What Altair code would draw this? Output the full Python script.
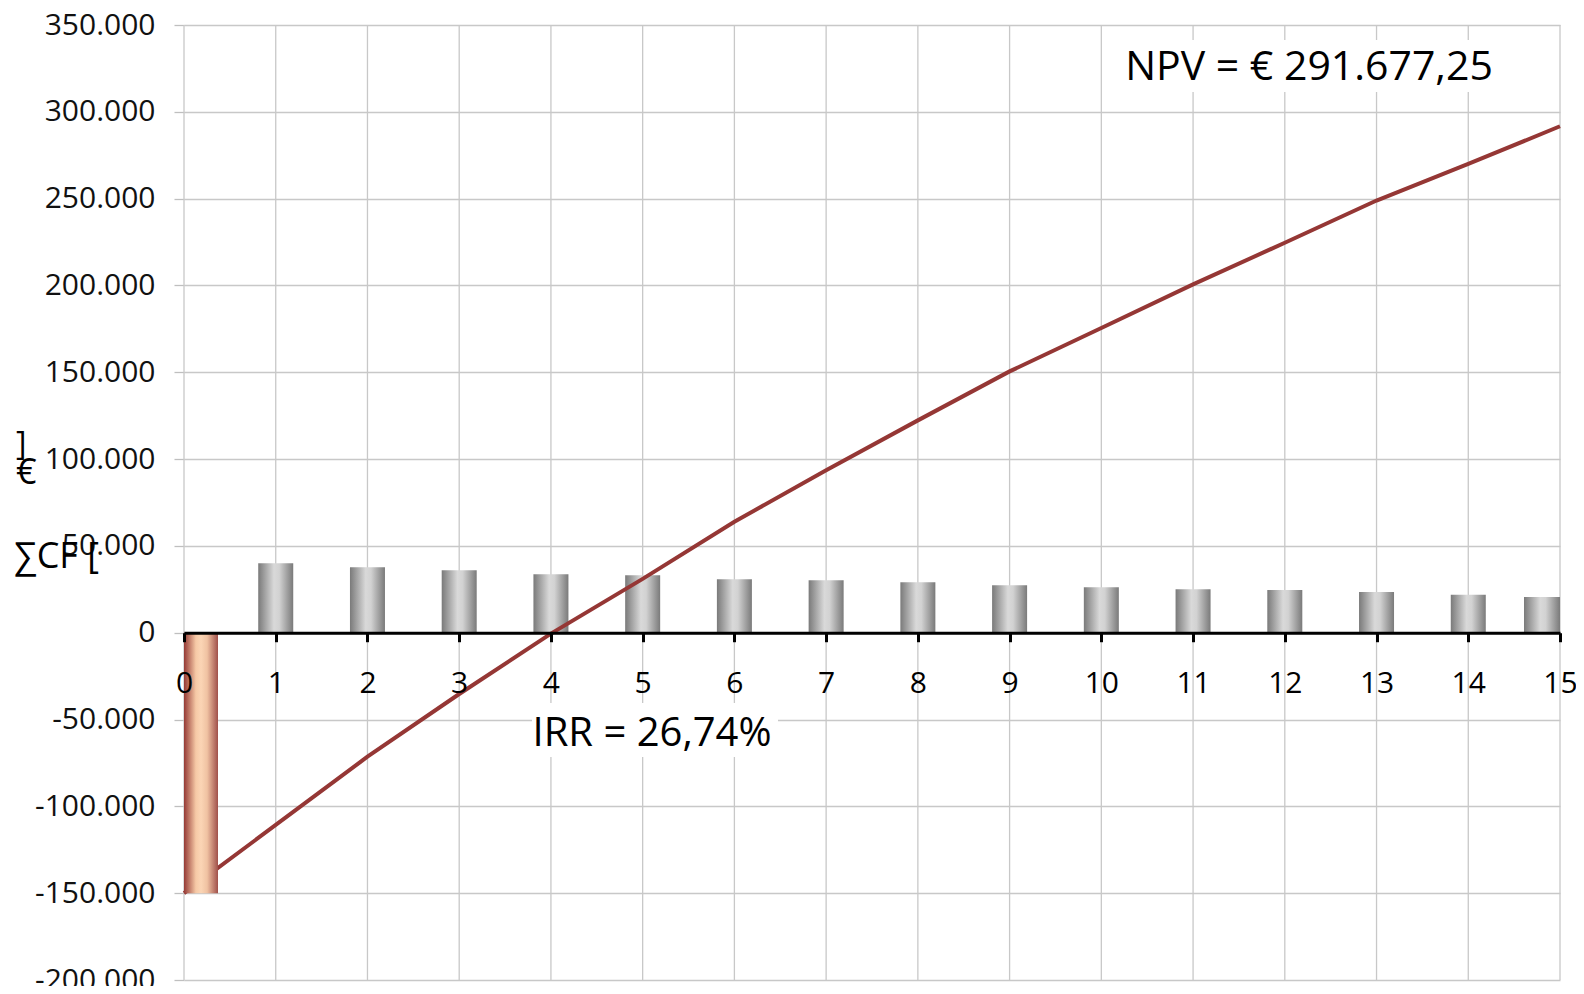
import altair as alt
import pandas as pd

# ---- data ----
years = list(range(16))
cash_flow = [-150000, 40000, 37700, 36000, 33700, 33100, 30800, 30200,
             29000, 27400, 26250, 25100, 24600, 23500, 21800, 20600]
cumulative = [-150000, -110700, -71400, -35300, -500, 31000, 63900, 93600,
              122300, 150500, 175500, 200600, 224600, 248900, 270000, 291677.25]
y_ticks = list(range(-200000, 350001, 50000))
npv_label = "NPV = € 291.677,25"
irr_label = "IRR = 26,74%"
y_title_parts = ["∑CF [", "€", "]"]

df = pd.DataFrame({"year": years, "cf": cash_flow, "cum": cumulative})

W, H = 1376, 955
FONT = "Open Sans"
y_min, y_max = -200000, 350000
zero_from_bottom = H * (0 - y_min) / (y_max - y_min)

x_scale = alt.Scale(domain=[0, 15], nice=False, zero=False, padding=0)
y_scale = alt.Scale(domain=[y_min, y_max], nice=False, padding=0)

x_axis = alt.Axis(
    values=years, title=None, orient="bottom", offset=-zero_from_bottom,
    domainColor="black", domainWidth=3, tickColor="black", tickWidth=3,
    tickSize=9, labelPadding=27, labelFontSize=30, labelColor="black",
    labelFont=FONT, labelFlush=False, labelOverlap=False,
    grid=False, zindex=1,
)
y_axis = alt.Axis(
    values=y_ticks, title=None, domain=False, tickColor="#BFBFBF",
    tickSize=10, tickWidth=1.3, labelPadding=19, labelFontSize=30,
    labelColor="#111111", labelFont=FONT,
    labelExpr="replace(replace(format(datum.value, ','), regexp(',', 'g'), '.'), '−', '-')",
    grid=True, gridColor="#C8C8C8", gridWidth=1.3, labelOverlap=False,
)

gray = alt.Gradient(
    gradient="linear", x1=0, x2=1, y1=0, y2=0,
    stops=[alt.GradientStop(offset=0, color="#7a7a7a"),
           alt.GradientStop(offset=0.45, color="#d9d9d9"),
           alt.GradientStop(offset=0.6, color="#d2d2d2"),
           alt.GradientStop(offset=1, color="#7a7a7a")],
)
copper = alt.Gradient(
    gradient="linear", x1=0, x2=1, y1=0, y2=0,
    stops=[alt.GradientStop(offset=0, color="#953a35"),
           alt.GradientStop(offset=0.35, color="#f6c9a6"),
           alt.GradientStop(offset=0.5, color="#fbd5b5"),
           alt.GradientStop(offset=0.68, color="#f0c2a2"),
           alt.GradientStop(offset=1, color="#a0504a")],
)

base = alt.Chart(df)
X = alt.X("year:Q", scale=x_scale, axis=x_axis)
Yb = alt.Y("cf:Q", scale=y_scale, axis=y_axis)

vgrid = base.mark_rule(color="#C8C8C8", strokeWidth=1.3).encode(
    x=X, y=alt.value(0), y2=alt.value(H))

bar_first = base.transform_filter("datum.year == 0").mark_bar(
    fill=copper, size=34, xOffset=17).encode(x=X, y=Yb)
bar_mid = base.transform_filter("datum.year > 0 && datum.year < 15").mark_bar(
    fill=gray, size=35).encode(x=X, y=Yb)
bar_last = base.transform_filter("datum.year == 15").mark_bar(
    fill=gray, size=36, xOffset=-18).encode(x=X, y=Yb)

line = base.mark_line(color="#953735", strokeWidth=4).encode(
    x=X, y=alt.Y("cum:Q", scale=y_scale, axis=y_axis))

one = pd.DataFrame({"k": [0]})
npv_bg = alt.Chart(one).mark_rect(fill="white").encode(
    x=alt.value(926), x2=alt.value(1316), y=alt.value(15), y2=alt.value(67))
irr_bg = alt.Chart(one).mark_rect(fill="white").encode(
    x=alt.value(348), x2=alt.value(594), y=alt.value(678), y2=alt.value(732))
npv_text = alt.Chart(one).mark_text(
    text=npv_label, font=FONT, fontSize=41, color="black", align="center",
    baseline="alphabetic").encode(x=alt.value(1125), y=alt.value(55))
irr_text = alt.Chart(one).mark_text(
    text=irr_label, font=FONT, fontSize=40, color="black", align="center",
    baseline="alphabetic").encode(x=alt.value(468), y=alt.value(721))

t1 = alt.Chart(one).mark_text(
    text=y_title_parts[0], font=FONT, fontSize=36, color="black", align="left",
    baseline="alphabetic").encode(x=alt.value(-170), y=alt.value(543))
t2 = alt.Chart(one).mark_text(
    text=y_title_parts[1], font=FONT, fontSize=36, color="black", align="left",
    baseline="alphabetic").encode(x=alt.value(-168), y=alt.value(459))
t3 = alt.Chart(one).mark_text(
    text=y_title_parts[2], font=FONT, fontSize=32, color="black", align="left",
    baseline="alphabetic").encode(x=alt.value(-168), y=alt.value(430))

chart = alt.layer(
    vgrid, npv_bg, irr_bg, bar_mid, bar_last, line, bar_first,
    npv_text, irr_text, t1, t2, t3,
).properties(
    width=W, height=H, autosize="none",
    padding={"left": 176, "top": 17, "right": 16, "bottom": 6},
    background="white",
).configure_view(stroke=None)

chart.save("out.html", embed_options={"renderer": "svg", "actions": False})
